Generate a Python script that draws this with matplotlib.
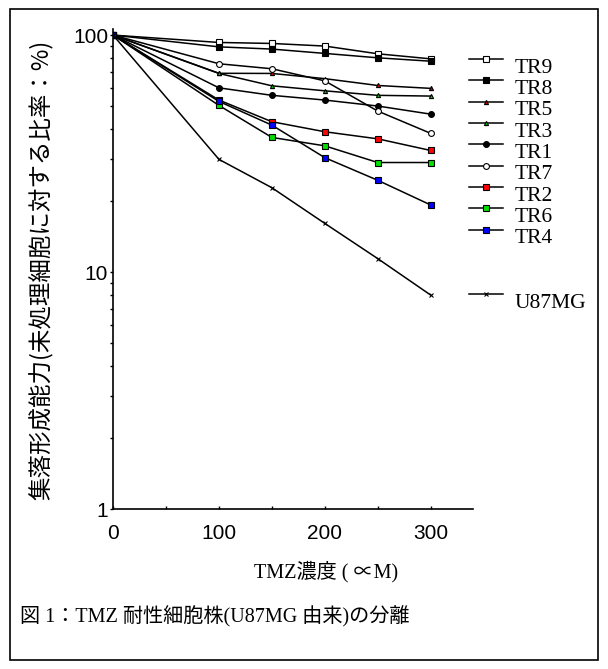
import matplotlib.pyplot as plt
from matplotlib.lines import Line2D
from matplotlib.patches import Rectangle
from matplotlib.legend_handler import HandlerLine2D
from matplotlib.ticker import FixedLocator, NullFormatter

# TMZ concentration (uM)
dose = [0, 100, 150, 200, 250, 300]

# colony forming ability, % of untreated
TR9 = [100, 93.1, 92.2, 89.9, 83.4, 79.4]
TR8 = [100, 89.2, 87.3, 83.7, 80.2, 77.6]
TR5 = [100, 69.0, 68.9, 65.5, 61.3, 59.6]
TR3 = [100, 68.9, 61.1, 58.2, 55.7, 55.3]
TR1 = [100, 59.9, 55.7, 53.2, 50.2, 46.4]
TR7 = [100, 75.7, 72.1, 64.1, 47.8, 38.5]
TR2 = [100, 53.2, 43.1, 39.1, 36.5, 32.6]
TR6 = [100, 50.5, 37.0, 34.1, 29.0, 29.0]
TR4 = [100, 52.5, 41.7, 30.4, 24.4, 19.2]
U87MG = [100, 29.9, 22.7, 16.05, 11.4, 8.0]

names = ['TR9', 'TR8', 'TR5', 'TR3', 'TR1', 'TR7', 'TR2', 'TR6', 'TR4', 'U87MG']
series = [TR9, TR8, TR5, TR3, TR1, TR7, TR2, TR6, TR4, U87MG]
# marker, facecolor, size
styles = [('s', 'white', 4.5), ('s', 'black', 4.5), ('^', '#c00000', 3),
          ('^', '#00c000', 3), ('o', 'black', 4.2), ('o', 'white', 4.2),
          ('s', '#ff0000', 4.5), ('s', '#00e000', 4.5), ('s', '#0000ff', 4.5),
          ('x', 'black', 3)]

serif_jp = ['Liberation Serif', 'Noto Sans CJK JP']
sans_jp = ['Noto Sans CJK JP', 'DejaVu Sans']


# legend line sits a little above the label text
class UpLine(HandlerLine2D):
    def create_artists(self, legend, orig_handle, xdescent, ydescent,
                       width, height, fontsize, trans):
        return super().create_artists(legend, orig_handle, xdescent,
                                      ydescent - 9, width, height,
                                      fontsize, trans)


fig = plt.figure(figsize=(6.08, 6.69), dpi=100)
ax = fig.add_axes([0.186, 0.239, 0.592, 0.7175])

handles = []
for name, vals, st in zip(names, series, styles):
    m, fc, ms = st
    ln, = ax.plot(dose, vals, color='black', lw=1.1, marker=m, ms=ms,
                  mfc=fc, mec='black', mew=0.8, label=name)
    handles.append(ln)

ax.set_yscale('log')
ax.set_xlim(0, 340)
ax.set_ylim(1, 106)
ax.spines['top'].set_visible(False)
ax.spines['right'].set_visible(False)
ax.spines['left'].set_linewidth(1.2)
ax.spines['bottom'].set_linewidth(1.2)

ax.set_xticks([0, 100, 200, 300])
ax.xaxis.set_minor_locator(FixedLocator([50, 150, 250]))
ax.set_yticks([1, 10, 100])
ax.set_yticklabels(['1', '10', '100'])
ax.yaxis.set_minor_formatter(NullFormatter())
ax.tick_params(axis='x', which='both', direction='in', length=2, width=1, pad=11)
ax.tick_params(axis='y', which='both', direction='out', length=2.5, width=1, pad=1)
for lab in ax.get_xticklabels() + ax.get_yticklabels():
    lab.set_family('Liberation Sans')
    lab.set_fontsize(15)

# legend with a gap before U87MG
blank = Line2D([], [], linestyle='none')
leg_h = handles[:9] + [blank, blank] + handles[9:]
leg_l = names[:9] + [' ', ' '] + names[9:]
fig.legend(leg_h, leg_l, loc='upper left', bbox_to_anchor=(0.740, 0.943),
           frameon=False, handlelength=1.55, handletextpad=0.55,
           labelspacing=0.06, handler_map={Line2D: UpLine()},
           prop={'family': 'Liberation Serif', 'size': 15.5})

fig.text(0.537, 0.145, 'TMZ濃度 ( ∝M)', ha='center', va='center',
         family=serif_jp, fontsize=14.5)
fig.text(0.069, 0.596, '集落形成能力(未処理細胞に対する比率：%)', rotation=90,
         ha='center', va='center', family=sans_jp, fontsize=16.9)
fig.text(0.033, 0.078, '図 1：TMZ 耐性細胞株(U87MG 由来)の分離', ha='left',
         va='center', family=serif_jp, fontsize=14.5)

fig.patches.append(Rectangle((10 / 608, 9 / 669), 588 / 608, 651 / 669,
                             transform=fig.transFigure, fill=False,
                             edgecolor='black', lw=1.2))

fig.savefig('out.png', dpi=100)
